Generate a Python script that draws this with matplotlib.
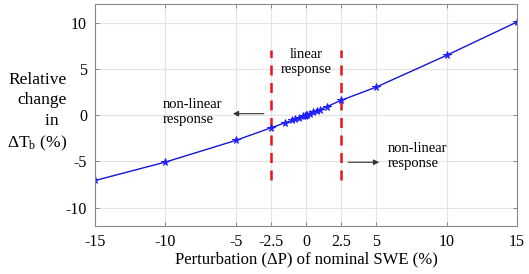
import numpy as np
import matplotlib
matplotlib.use("Agg")
import matplotlib.pyplot as plt

plt.rcParams['font.family'] = ['Liberation Serif', 'DejaVu Serif']
plt.rcParams['mathtext.fontset'] = 'custom'
plt.rcParams['mathtext.rm'] = 'Liberation Serif'
plt.rcParams['mathtext.it'] = 'Liberation Serif:italic'
plt.rcParams['axes.unicode_minus'] = False

# perturbation of nominal SWE (%) and relative change in delta Tb (%)
perturbation = [-15, -10, -5, -2.5, -1.5, -1, -0.75, -0.5, -0.25, -0.1, 0,
                0.1, 0.25, 0.5, 0.75, 1, 1.5, 2.5, 5, 10, 15]
rel_change = [-7.07, -5.08, -2.74, -1.38, -0.84, -0.57, -0.43, -0.29, -0.14, -0.06, 0.0,
              0.06, 0.15, 0.30, 0.45, 0.60, 0.92, 1.60, 3.03, 6.46, 10.06]

xticks = [-15, -10, -5, -2.5, 0, 2.5, 5, 10, 15]
xticklabels = ['-15', '-10', '-5', '-2.5', '0', '2.5', '5', '10', '15']
yticks = [-10, -5, 0, 5, 10]
bounds = [-2.5, 2.5]

fig = plt.figure(figsize=(5.29, 2.74), dpi=100)
ax = fig.add_axes([0.18, 0.175, 0.797, 0.81])

ax.grid(True, color='#e3e3e3', linewidth=0.8)
ax.set_axisbelow(True)

for b in bounds:
    ax.plot([b, b], [-7, 7], color='#e8141c', linestyle=(0, (4, 3)), linewidth=1.8)

ax.plot(perturbation, rel_change, color='#1515d5', linewidth=1.0,
        marker='*', markersize=5.5, markeredgewidth=0.7,
        markerfacecolor='#2020ff', markeredgecolor='#2020ff')

ax.set_xlim(-15, 15)
ax.set_ylim(-12, 12)
ax.set_xticks(xticks)
ax.set_xticklabels(xticklabels)
ax.set_yticks(yticks)
ax.tick_params(direction='in', length=3, width=0.6, color='#777777',
               labelsize=11.5, top=True, right=True, pad=6)
for s in ax.spines.values():
    s.set_color('#888888')
    s.set_linewidth(0.8)

ax.set_xlabel('Perturbation (ΔP) of nominal SWE (%)', fontsize=12, labelpad=1)

fig.text(0.127, 0.59, 'Relative\nchange\nin  \nΔT$_\\mathrm{b}$ (%)', fontsize=12.5,
         ha='right', va='center', multialignment='right', linespacing=1.35)

# annotations
ax.text(-10.2, 0.3, 'non-linear\nresponse', fontsize=10.5, ha='left', va='center',
        linespacing=1.2)
ax.annotate('', xy=(-5.4, 0.15), xytext=(-2.8, 0.15),
            arrowprops=dict(arrowstyle='-|>', color='#333333', lw=0.8,
                            mutation_scale=8))
ax.text(0.0, 5.7, 'linear\nresponse', fontsize=10.5, ha='center', va='center',
        linespacing=1.2)
ax.text(5.8, -4.4, 'non-linear\nresponse', fontsize=10.5, ha='left', va='center',
        linespacing=1.2)
ax.annotate('', xy=(5.4, -5.1), xytext=(2.8, -5.1),
            arrowprops=dict(arrowstyle='-|>', color='#333333', lw=0.8,
                            mutation_scale=8))

fig.savefig('out.png', dpi=100)
